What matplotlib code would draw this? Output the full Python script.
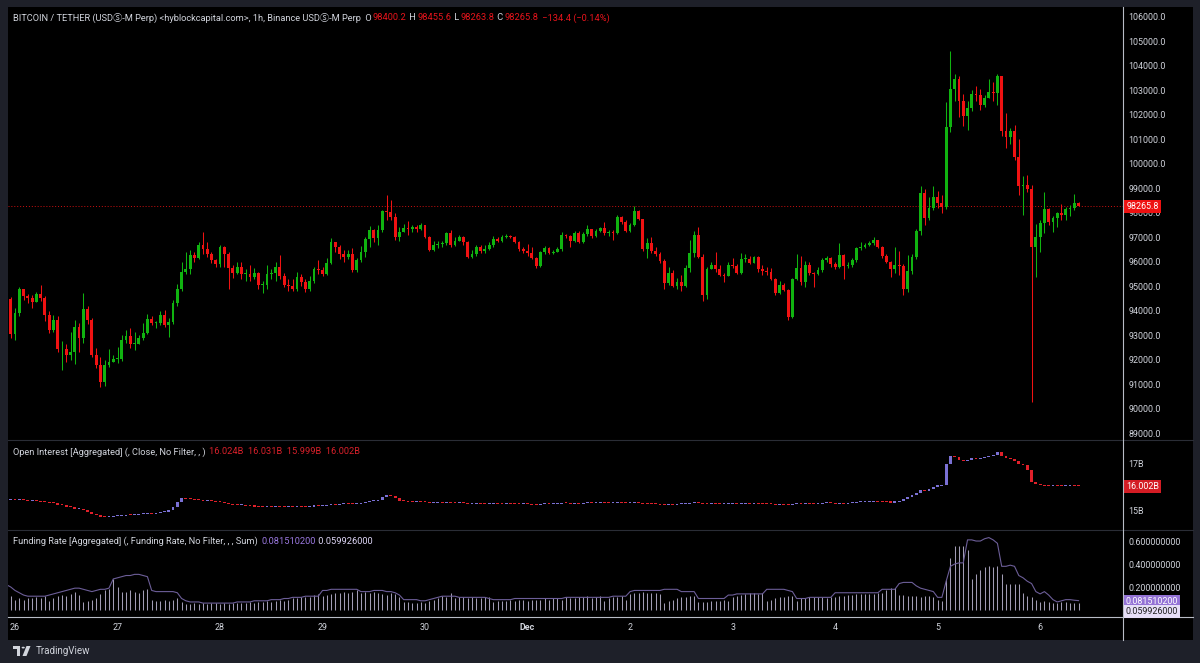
import numpy as np
import matplotlib
matplotlib.use("Agg")
import matplotlib.pyplot as plt
from matplotlib.transforms import blended_transform_factory
from matplotlib.patches import Rectangle, Polygon, Circle

W, H = 1200, 663
FAM = ['Roboto', 'DejaVu Sans', 'Noto Sans CJK JP']

# ---------------- data ----------------
day_labels = ['26', '27', '28', '29', '30', 'Dec', '2', '3', '4', '5', '6']
first_open = 93840
closes = [
    94490, 93070, 93920, 94900, 94610, 94530, 94370, 94690, 94530, 93840, 93230, 93640,
    92420, 92460, 92210, 92300, 93350, 92870, 94080, 93640, 92210, 91770, 91110, 91770,
    91890, 92050, 92050, 92820, 92990, 92660, 92660, 92870, 93110, 93680, 93520, 93520,
    93840, 93430, 93560, 94330, 94900, 95590, 95710, 96280, 96160, 96690, 96520, 96320,
    96080, 95920, 96610, 96320, 95760, 95550, 95800, 95510, 95510, 95390, 95550, 95060,
    95060, 95510, 95550, 95800, 95430, 95060, 95020, 94900, 95390, 95180, 94900, 95220,
    95710, 95670, 95510, 95960, 96810, 96610, 96320, 96200, 96320, 95670, 96080, 96400,
    96930, 97300, 96970, 97300, 98070, 98030, 97830, 97010, 97220, 97380, 97340, 97420,
    97340, 97500, 97010, 96480, 96690, 96730, 96770, 97180, 96690, 96850, 97010, 96810,
    96200, 96320, 96610, 96440, 96520, 96690, 96930, 96850, 97010, 97050, 97010, 96810,
    96520, 96440, 96360, 96160, 95840, 96400, 96560, 96360, 96400, 96520, 97090, 97050,
    96850, 97180, 96810, 97140, 97340, 97050, 97260, 97380, 97180, 97220, 97180, 97830,
    97630, 97260, 97500, 98070, 97750, 96520, 96770, 96440, 96320, 96040, 95140, 95550,
    95020, 95180, 95020, 95750, 96360, 97090, 96200, 94650, 95710, 95880, 95710, 95470,
    95430, 95880, 95840, 95550, 96120, 96120, 95960, 96200, 95710, 95630, 95590, 95310,
    94730, 95060, 94860, 93760, 95310, 95750, 95180, 95880, 95550, 95510, 95670, 96080,
    96160, 95920, 95800, 96280, 95840, 95880, 96080, 96560, 96610, 96690, 96770, 96890,
    96610, 96240, 96000, 95710, 95880, 95840, 94900, 95630, 96200, 97260, 98800, 97790,
    98190, 98640, 98390, 98230, 101490, 103070, 103440, 102580, 101930, 102260, 102830, 102790,
    102380, 102670, 102910, 102870, 103560, 101320, 101080, 101320, 100260, 99090, 99130, 98960,
    96610, 97010, 97580, 98150, 97630, 97790, 97990, 97910, 98150, 98190, 98400.2, 98265.8,
]
highs = [
    94600, 94550, 94100, 94980, 94700, 94700, 94650, 94760, 95060, 94600, 94000, 93840,
    93800, 92780, 92650, 93150, 93640, 93500, 94730, 94200, 93700, 92500, 92130, 92000,
    92460, 92200, 92540, 93000, 93200, 93310, 93150, 93000, 93500, 93850, 93800, 93600,
    94000, 94050, 93700, 94450, 95100, 96000, 96400, 96500, 96400, 96800, 97220, 96800,
    96400, 96100, 96700, 96650, 96400, 95850, 96000, 96000, 95700, 95850, 95750, 95600,
    95200, 95870, 95700, 96000, 96280, 95550, 95300, 95300, 95600, 95500, 95300, 95400,
    95800, 96080, 95800, 96150, 96950, 96800, 96700, 96500, 96500, 96550, 96150, 96650,
    97000, 97450, 97350, 97500, 98100, 98720, 98520, 98000, 97400, 97550, 97660, 97500,
    97500, 97600, 97500, 97050, 96850, 96850, 96850, 97220, 97300, 97000, 97100, 97050,
    96850, 96500, 96700, 96700, 96700, 96800, 97050, 97000, 97100, 97150, 97100, 97050,
    96850, 96600, 96730, 96600, 96200, 96450, 96650, 96600, 96500, 96600, 97220, 97150,
    97100, 97250, 97250, 97200, 97500, 97350, 97350, 97420, 97620, 97300, 97300, 97900,
    97850, 97700, 97600, 98270, 98100, 97750, 96950, 97010, 96600, 96400, 96100, 95800,
    95650, 95350, 95470, 95850, 96890, 97260, 97420, 96300, 95800, 96000, 96400, 95850,
    95550, 96000, 96160, 95900, 96360, 96300, 96250, 96250, 96250, 95850, 95800, 95750,
    95350, 95200, 95150, 94900, 95350, 96320, 96240, 96050, 96000, 95600, 95800, 96150,
    96250, 96200, 96000, 96770, 96300, 96000, 96150, 96600, 96810, 96750, 96850, 97010,
    96900, 96650, 96300, 96050, 96610, 96440, 95900, 96280, 96300, 97350, 99090, 98960,
    98640, 99090, 98880, 98720, 102500, 104620, 103680, 103560, 102830, 102580, 102990, 103190,
    103030, 102790, 103440, 103320, 103680, 103600, 102060, 101440, 101570, 101000, 99490, 99530,
    99130, 97540, 97700, 98840, 98200, 97850, 98050, 98350, 98250, 98310, 98760, 98455.6,
]
lows = [
    92700, 92900, 92820, 93800, 94450, 94300, 94120, 94400, 94400, 93600, 93100, 93150,
    92300, 91600, 91890, 92000, 91810, 92330, 92700, 93450, 92100, 91650, 90910, 90950,
    91700, 91900, 91850, 91950, 92700, 92500, 92400, 92650, 92800, 93050, 93400, 93300,
    93400, 93350, 92950, 93450, 94200, 94800, 95500, 95500, 96000, 96100, 96300, 96200,
    95950, 95800, 95800, 95800, 94900, 95350, 95500, 95300, 95200, 95200, 95300, 94900,
    94730, 94900, 95300, 95200, 95300, 94950, 94800, 94800, 94800, 95000, 94750, 94800,
    95150, 95500, 95400, 95450, 95900, 96400, 96100, 96000, 96100, 95600, 95600, 96000,
    96200, 96600, 96800, 96700, 97200, 97700, 97700, 96900, 96850, 97200, 97100, 97200,
    97200, 97300, 96950, 96450, 96450, 96550, 96600, 96700, 96600, 96650, 96900, 96700,
    96150, 96150, 96250, 96350, 96350, 96500, 96600, 96800, 96800, 96950, 96950, 96750,
    96450, 96350, 96250, 96100, 95750, 95800, 96300, 96300, 96300, 96400, 96450, 96950,
    96610, 96800, 96750, 96750, 97050, 96950, 97000, 97200, 97100, 97050, 96890, 97150,
    97550, 97200, 97200, 97450, 97700, 96450, 96160, 96350, 96250, 95950, 94900, 95050,
    94950, 94900, 94820, 94950, 95600, 96200, 96150, 94410, 94500, 95700, 95600, 95400,
    95180, 95400, 95750, 95500, 95500, 96000, 95900, 95950, 95600, 95450, 95450, 95250,
    94650, 94700, 94800, 93640, 93700, 95250, 95050, 94980, 95450, 94980, 95450, 95600,
    96000, 95800, 95700, 95750, 95310, 95750, 95800, 96000, 96500, 96550, 96650, 96700,
    96550, 96150, 95950, 95390, 95550, 95470, 94650, 94780, 95500, 96100, 97100, 97500,
    97700, 98100, 98200, 97990, 98150, 101300, 102580, 101890, 101530, 101360, 102150, 102550,
    102200, 102300, 102700, 102540, 102380, 101150, 100630, 100800, 100150, 98720, 97910, 98840,
    90260, 95390, 96400, 97180, 97500, 97220, 97420, 97700, 97700, 97850, 98100, 98263.8,
]
last_price = 98265.8

oi_first_open = 15.45
oi_close = [
    15.43, 15.45, 15.42, 15.44, 15.43, 15.40, 15.41, 15.38, 15.35, 15.34,
    15.30, 15.28, 15.22, 15.20, 15.14, 15.12, 15.05, 15.06, 15.00, 14.92,
    14.85, 14.78, 14.72, 14.70, 14.72, 14.73, 14.74, 14.76, 14.78, 14.77,
    14.80, 14.82, 14.83, 14.85, 14.84, 14.87, 14.90, 14.93, 15.00, 15.12,
    15.35, 15.52, 15.48, 15.45, 15.44, 15.42, 15.40, 15.41, 15.38, 15.36,
    15.34, 15.30, 15.26, 15.22, 15.20, 15.21, 15.18, 15.16, 15.15, 15.14,
    15.13, 15.14, 15.12, 15.13, 15.12, 15.11, 15.13, 15.12, 15.16, 15.14,
    15.13, 15.15, 15.20, 15.18, 15.19, 15.22, 15.24, 15.23, 15.24, 15.26,
    15.25, 15.24, 15.27, 15.30, 15.34, 15.38, 15.40, 15.44, 15.55, 15.65,
    15.60, 15.50, 15.40, 15.38, 15.36, 15.35, 15.36, 15.34, 15.33, 15.30,
    15.31, 15.32, 15.30, 15.32, 15.30, 15.29, 15.31, 15.30, 15.26, 15.27,
    15.28, 15.27, 15.26, 15.27, 15.28, 15.27, 15.26, 15.27, 15.26, 15.25,
    15.24, 15.25, 15.24, 15.23, 15.22, 15.25, 15.26, 15.25, 15.26, 15.27,
    15.30, 15.29, 15.27, 15.28, 15.27, 15.28, 15.30, 15.29, 15.30, 15.31,
    15.30, 15.29, 15.30, 15.32, 15.31, 15.28, 15.29, 15.31, 15.30, 15.27,
    15.26, 15.25, 15.24, 15.23, 15.22, 15.24, 15.23, 15.24, 15.25, 15.27,
    15.30, 15.34, 15.30, 15.26, 15.25, 15.26, 15.25, 15.24, 15.25, 15.26,
    15.27, 15.26, 15.27, 15.28, 15.27, 15.28, 15.27, 15.26, 15.25, 15.24,
    15.22, 15.23, 15.22, 15.20, 15.24, 15.26, 15.25, 15.27, 15.26, 15.25,
    15.26, 15.28, 15.29, 15.28, 15.27, 15.28, 15.27, 15.28, 15.30, 15.33,
    15.34, 15.35, 15.36, 15.38, 15.36, 15.34, 15.33, 15.32, 15.35, 15.40,
    15.48, 15.55, 15.62, 15.72, 15.85, 15.80, 15.90, 16.00, 16.02, 16.05,
    16.95, 17.30, 17.25, 17.15, 17.10, 17.15, 17.20, 17.18, 17.22, 17.25,
    17.30, 17.35, 17.45, 17.30, 17.20, 17.18, 17.10, 16.95, 16.90, 16.70,
    16.20, 16.10, 16.05, 16.04, 16.02, 16.03, 16.02, 16.01, 16.02, 16.03,
    16.024, 16.002,
]
oi_last = 16.002

funding_sum = [
    0.22, 0.20, 0.17, 0.15, 0.13, 0.12, 0.12, 0.12, 0.12, 0.12,
    0.13, 0.14, 0.15, 0.16, 0.17, 0.18, 0.19, 0.19, 0.18, 0.17, 0.16,
    0.17, 0.18, 0.18, 0.19, 0.27, 0.28, 0.29, 0.30, 0.30,
    0.31, 0.31, 0.30, 0.29, 0.17, 0.16, 0.16, 0.16, 0.16, 0.16, 0.15,
    0.10, 0.08, 0.07, 0.07, 0.07, 0.06, 0.06, 0.06, 0.06, 0.06, 0.06, 0.06, 0.06,
    0.07, 0.07, 0.07, 0.07, 0.08, 0.08, 0.08, 0.08, 0.09, 0.09, 0.09, 0.10, 0.10,
    0.11, 0.11, 0.11, 0.12, 0.12, 0.12, 0.12,
    0.17, 0.17, 0.18, 0.18, 0.18, 0.18, 0.18, 0.18, 0.18,
    0.16, 0.16, 0.16, 0.17, 0.17, 0.17, 0.16, 0.16, 0.15, 0.13,
    0.09, 0.09, 0.09, 0.09, 0.08, 0.08, 0.09, 0.10, 0.11,
    0.12, 0.12, 0.12, 0.12, 0.11, 0.11, 0.11, 0.11, 0.11, 0.11, 0.11, 0.10,
    0.09, 0.09, 0.09, 0.09, 0.09, 0.10, 0.10, 0.10, 0.10, 0.10, 0.10, 0.10, 0.10,
    0.10, 0.10, 0.10, 0.10, 0.11, 0.11, 0.11, 0.11, 0.11, 0.11, 0.11, 0.11, 0.11,
    0.11, 0.11, 0.12, 0.12, 0.12, 0.12,
    0.16, 0.17, 0.17, 0.17, 0.17, 0.17, 0.17, 0.17, 0.18, 0.18, 0.18, 0.18,
    0.16, 0.16, 0.16, 0.16, 0.10, 0.10, 0.10, 0.10, 0.10, 0.10, 0.10,
    0.13, 0.13, 0.14, 0.14, 0.14, 0.14, 0.14, 0.14, 0.14,
    0.18, 0.18, 0.18, 0.18, 0.18, 0.17, 0.16, 0.10,
    0.10, 0.10, 0.11, 0.11, 0.11, 0.11, 0.11, 0.11,
    0.15, 0.15, 0.15, 0.15, 0.15, 0.15, 0.15, 0.15, 0.15, 0.15, 0.15,
    0.18, 0.18, 0.18, 0.18, 0.23, 0.24, 0.24, 0.24,
    0.21, 0.19, 0.18, 0.17, 0.16, 0.11, 0.11,
    0.25, 0.38, 0.40, 0.41, 0.41,
    0.61, 0.61, 0.60, 0.60, 0.62, 0.63, 0.61, 0.58,
    0.38, 0.38, 0.39, 0.38, 0.30, 0.28, 0.25, 0.23, 0.16,
    0.14, 0.16, 0.13, 0.09, 0.07, 0.08, 0.09, 0.09, 0.085, 0.0815102,
]
funding_rate = [
    0.15, 0.12, 0.09, 0.10,
    0.09, 0.10, 0.10, 0.11, 0.10, 0.12, 0.08, 0.10, 0.12, 0.13, 0.12, 0.14,
    0.16, 0.13, 0.07, 0.08, 0.09, 0.10, 0.14, 0.17, 0.18,
    0.27, 0.20,
    0.16, 0.16, 0.17, 0.16, 0.15, 0.17, 0.18,
    0.09, 0.08, 0.08, 0.09, 0.08, 0.09, 0.10, 0.07,
    0.05, 0.05, 0.06, 0.05, 0.06, 0.05, 0.06, 0.06, 0.05, 0.06, 0.05, 0.06, 0.06, 0.06,
    0.06, 0.07, 0.06, 0.07, 0.07, 0.08, 0.07, 0.08, 0.09, 0.08, 0.09, 0.10, 0.10, 0.11, 0.11,
    0.11, 0.13, 0.14,
    0.12, 0.13, 0.14, 0.15, 0.15, 0.16, 0.15, 0.16, 0.17, 0.15, 0.16, 0.15, 0.16, 0.15,
    0.14, 0.13, 0.15, 0.14, 0.11,
    0.07, 0.07, 0.06, 0.06, 0.07, 0.06, 0.08, 0.09, 0.10, 0.12, 0.11, 0.15,
    0.10, 0.11, 0.11, 0.10, 0.11, 0.10, 0.10, 0.11, 0.11,
    0.07, 0.08, 0.08, 0.08, 0.09, 0.08, 0.09, 0.09, 0.08, 0.09, 0.09, 0.09, 0.10,
    0.09, 0.10, 0.10, 0.09, 0.11, 0.10, 0.10, 0.11, 0.11, 0.12, 0.10, 0.11, 0.12,
    0.08, 0.10, 0.11, 0.11, 0.12, 0.09,
    0.14, 0.15, 0.15, 0.16, 0.15, 0.15, 0.15, 0.14,
    0.06, 0.08, 0.09, 0.10, 0.11, 0.11, 0.12, 0.12,
    0.07, 0.07, 0.07, 0.08, 0.08, 0.08, 0.09,
    0.08, 0.11, 0.12, 0.13, 0.14, 0.15, 0.15, 0.14, 0.15,
    0.08, 0.09, 0.10, 0.11, 0.11, 0.12, 0.12, 0.08,
    0.10, 0.10, 0.11, 0.11, 0.11, 0.11, 0.10, 0.11,
    0.11, 0.12, 0.12, 0.13, 0.13, 0.14, 0.14, 0.14, 0.14, 0.14, 0.15,
    0.15, 0.17, 0.19, 0.19,
    0.13, 0.13, 0.12, 0.12, 0.12, 0.11, 0.12, 0.12, 0.11,
    0.09, 0.08,
    0.26, 0.45, 0.56, 0.56, 0.56, 0.52,
    0.27, 0.31, 0.35, 0.37, 0.38, 0.37, 0.38,
    0.31, 0.23, 0.23, 0.23, 0.23,
    0.15, 0.12, 0.11, 0.09,
    0.07, 0.08, 0.07, 0.06, 0.06, 0.07, 0.07, 0.06, 0.06, 0.059926,
]

price_ticks = [89000, 90000, 91000, 92000, 93000, 94000, 95000, 96000, 97000, 98000,
               99000, 100000, 101000, 102000, 103000, 104000, 105000, 106000]
oi_ticks = [15, 17]
fr_ticks = [0.2, 0.4, 0.6]

# ---------------- style ----------------
BG_OUT = '#1e2029'
TXT = '#d1d4dc'
GREEN = '#10b310'
RED = '#f01212'
OI_UP = '#7a70d4'
OI_DN = '#e0202a'
SEP_DARK = '#2a2d36'
SEP_LIGHT = '#b8bcc6'
FS = 6.4

fig = plt.figure(figsize=(W / 100, H / 100), dpi=100, facecolor=BG_OUT)


def rect(x0, y0, x1, y1):
    return [x0 / W, 1 - y1 / H, (x1 - x0) / W, (y1 - y0) / H]


# black chart background (behind everything)
bg = fig.add_axes(rect(8, 7, 1193, 640), zorder=-10)
bg.set_facecolor('black')
bg.set_xticks([])
bg.set_yticks([])
for s in bg.spines.values():
    s.set_visible(False)

XL = (0.36, 261.4)

axp = fig.add_axes(rect(8, 7, 1123, 440))
axo = fig.add_axes(rect(8, 440, 1123, 530))
axf = fig.add_axes(rect(8, 530, 1123, 617))

for ax in (axp, axo, axf):
    ax.set_facecolor('black')
    for s in ax.spines.values():
        s.set_visible(False)
    ax.set_xlim(*XL)
    ax.set_xticks([])
    ax.yaxis.tick_right()
    ax.tick_params(axis='y', length=0, pad=4.0, labelsize=FS, labelcolor=TXT)

# ---- price candles ----
c = np.array(closes, dtype=float)
o = np.concatenate([[first_open], c[:-1]])
hi = np.maximum(np.array(highs, dtype=float), np.maximum(o, c))
lo = np.minimum(np.array(lows, dtype=float), np.minimum(o, c))
x = np.arange(len(c))
col = np.where(c >= o, GREEN, RED)
axp.vlines(x, lo, hi, colors=col, lw=0.75, zorder=2)
body_h = np.maximum(np.abs(c - o), 40)
axp.bar(x, body_h, bottom=np.minimum(o, c), width=0.66, color=col, linewidth=0, zorder=3)
axp.set_ylim(88727, 106396)
axp.set_yticks(price_ticks)
axp.set_yticklabels([f'{v:.1f}' for v in price_ticks], family=FAM)
axp.axhline(last_price, color='#d01010', lw=0.7, ls=(0, (1, 2)), zorder=1)
tp = blended_transform_factory(axp.transAxes, axp.transData)
axp.text(1.003, last_price, f'{last_price:.1f}', transform=tp, ha='left', va='center',
         fontsize=FS, color='white', family=FAM, clip_on=False, zorder=10,
         bbox=dict(boxstyle='square,pad=0.25', fc='#ee1111', ec='none'))

# ---- open interest candles ----
oc = np.array(oi_close, dtype=float)
oo = np.concatenate([[oi_first_open], oc[:-1]])
xo = np.arange(len(oc))
ocol = np.where(oc >= oo, OI_UP, OI_DN)
axo.bar(xo, np.maximum(np.abs(oc - oo), 0.045), bottom=np.minimum(oo, oc), width=0.66,
        color=ocol, linewidth=0)
axo.set_ylim(14.15, 17.98)
axo.set_yticks(oi_ticks)
axo.set_yticklabels([f'{v}B' for v in oi_ticks], family=FAM)
to = blended_transform_factory(axo.transAxes, axo.transData)
axo.text(1.003, oi_last, f'{oi_last:.3f}B', transform=to, ha='left', va='center',
         fontsize=FS, color='white', family=FAM, clip_on=False, zorder=10,
         bbox=dict(boxstyle='square,pad=0.25', fc='#d41c24', ec='none'))

# ---- funding ----
fr = np.array(funding_rate, dtype=float)
fs = np.array(funding_sum, dtype=float)
axf.vlines(np.arange(len(fr)), 0, fr, colors='#b4aeca', lw=0.75, alpha=0.9)
axf.plot(np.arange(len(fs)), fs, color='#6c5e98', lw=0.8)
axf.set_ylim(-0.061, 0.696)
axf.set_yticks(fr_ticks)
axf.set_yticklabels([f'{v:.9f}' for v in fr_ticks], family=FAM)
fig.text(1126 / W, 1 - 601 / H, '0.081510200', fontsize=FS, color='white', family=FAM,
         ha='left', va='center',
         bbox=dict(boxstyle='square,pad=0.22', fc='#9473d6', ec='none'))
fig.text(1126 / W, 1 - 611.5 / H, '0.059926000', fontsize=FS, color='#202020', family=FAM,
         ha='left', va='center',
         bbox=dict(boxstyle='square,pad=0.22', fc='#e6def7', ec='none'))

# ---- time axis labels ----
tt = blended_transform_factory(axf.transData, fig.transFigure)
for k, lab in enumerate(day_labels):
    axf.text(2 + 24 * k, 1 - 628 / H, lab, transform=tt, ha='center', va='center',
             fontsize=FS, color=TXT, family=FAM, clip_on=False,
             fontweight='bold' if lab == 'Dec' else 'normal')


# ---- separators ----
def hline(y, x0, x1, color, lw=0.8):
    fig.add_artist(plt.Line2D([x0 / W, x1 / W], [1 - y / H, 1 - y / H], color=color, lw=lw,
                              transform=fig.transFigure))


def vline(xp, y0, y1, color, lw=0.8):
    fig.add_artist(plt.Line2D([xp / W, xp / W], [1 - y0 / H, 1 - y1 / H], color=color, lw=lw,
                              transform=fig.transFigure))


hline(440, 8, 1193, SEP_DARK)
hline(530, 8, 1193, SEP_DARK)
hline(617, 8, 1193, SEP_LIGHT)
vline(1123, 7, 640, SEP_LIGHT)

# ---- header texts ----
fig.canvas.draw()
renderer = fig.canvas.get_renderer()


def seq_text(x_px, y_px, pieces, size=6.7):
    xx = x_px
    for s, colr in pieces:
        t = fig.text(xx / W, 1 - y_px / H, s, color=colr, fontsize=size, family=FAM,
                     ha='left', va='center')
        bb = t.get_window_extent(renderer)
        xx += bb.width + 1.0


HRED = '#e8141c'
seq_text(13, 18, [
    ('BITCOIN / TETHER (USD\u24c8-M Perp) <hyblockcapital.com>, 1h, Binance USD\u24c8-M Perp  O', TXT),
    ('98400.2', HRED), (' H', TXT), ('98455.6', HRED), (' L', TXT), ('98263.8', HRED),
    (' C', TXT), ('98265.8', HRED), (' \u2212134.4 (\u22120.14%)', HRED)])
seq_text(13, 452, [
    ('Open Interest [Aggregated] (, Close, No Filter, , ) ', TXT),
    ('16.024B  16.031B  15.999B  16.002B', '#d8202a')])
seq_text(13, 541, [
    ('Funding Rate [Aggregated] (, Funding Rate, No Filter, , , Sum) ', TXT),
    ('0.081510200', '#9a78e0'), (' 0.059926000', '#ddd5f5')])

# ---- TradingView footer ----
fig.patches.append(Rectangle((13 / W, 1 - 649 / H), 7 / W, 3.2 / H, transform=fig.transFigure,
                             fc=TXT, ec='none'))
fig.patches.append(Rectangle((16.5 / W, 1 - 656 / H), 3.5 / W, 9 / H, transform=fig.transFigure,
                             fc=TXT, ec='none'))
fig.patches.append(Circle((23.2 / W, 1 - 647.6 / H), 1.6 / W, transform=fig.transFigure,
                          fc=TXT, ec='none'))
fig.patches.append(Polygon([(26.5 / W, 1 - 646 / H), (30.5 / W, 1 - 646 / H),
                            (26.5 / W, 1 - 656 / H), (22.5 / W, 1 - 656 / H)],
                           closed=True, transform=fig.transFigure, fc=TXT, ec='none'))
fig.text(36 / W, 1 - 651 / H, 'TradingView', fontsize=7, color=TXT, family=FAM,
         ha='left', va='center')

fig.savefig('out.png', dpi=100, facecolor=fig.get_facecolor())
